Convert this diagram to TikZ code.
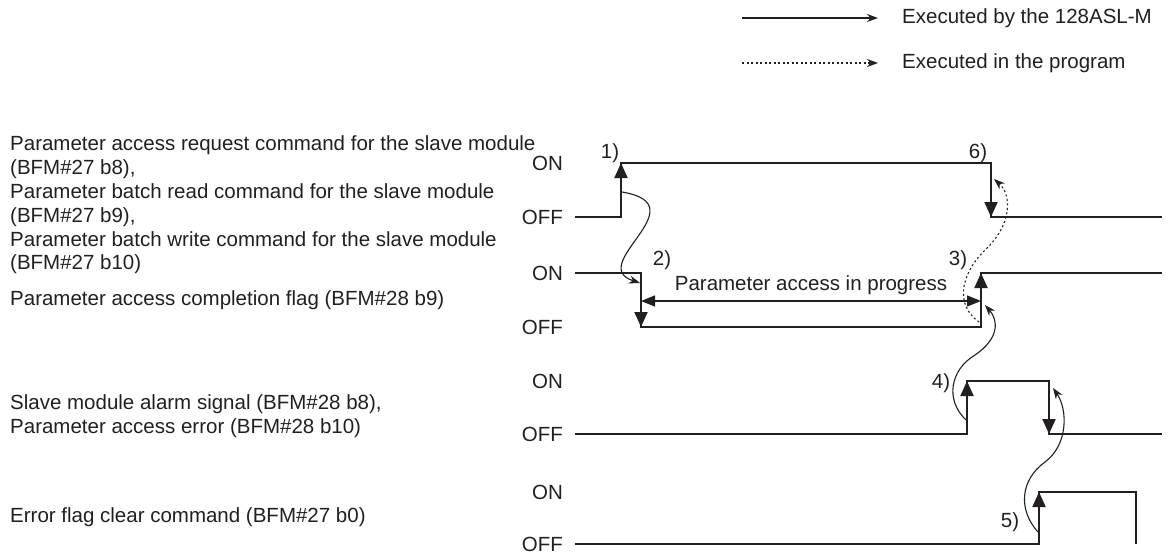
\documentclass[tikz,border=0pt]{standalone}
\usepackage{fontspec}
\setmainfont{Liberation Sans}
\usepackage{xcolor}
\definecolor{ink}{HTML}{231F20}
\usetikzlibrary{arrows.meta,positioning}

\begin{document}
\begin{tikzpicture}[x=1pt,y=-1pt,
  txt/.style={font=\fontsize{20.5}{23.8}\selectfont,text=ink,inner sep=0pt},
  lbl/.style={txt,anchor=west,align=left},
  lvl/.style={txt,anchor=east},
  num/.style={txt},
  sig/.style={draw=ink,line width=2pt},
  edgear/.style={-{Triangle[length=15pt,width=13pt]},draw=ink,line width=2pt},
  span/.style={{Triangle[length=14pt,width=11pt]}-{Triangle[length=14pt,width=11pt]},draw=ink,line width=1.3pt},
  cause/.style={-{Stealth[length=11pt,width=8pt]},draw=ink,line width=1.1pt},
  prog/.style={cause,dash pattern=on 2pt off 2.5pt}
]
\useasboundingbox (0,0) rectangle (1172,557);

% legend
\coordinate (lga) at (742,18);
\coordinate (lgb) at (878,18);
\coordinate (lgc) at (742,63);
\coordinate (lgd) at (878,63);
\draw[cause] (lga) -- (lgb);
\draw[prog] (lgc) -- (lgd);
\node[lbl] (lgtxt1) at (902,18) {Executed by the 128ASL-M};
\node[lbl] (lgtxt2) at (902,63) {Executed in the program};

% signal names
\node[lbl] (req) at (10,205) {Parameter access request command for the slave module\\(BFM\#27 b8),\\Parameter batch read command for the slave module\\(BFM\#27 b9),\\Parameter batch write command for the slave module\\(BFM\#27 b10)};
\node[lbl] (done) at (10,300) {Parameter access completion flag (BFM\#28 b9)};
\node[lbl] (alarm) at (10,416) {Slave module alarm signal (BFM\#28 b8),\\Parameter access error (BFM\#28 b10)};
\node[lbl] (clr) at (10,517) {Error flag clear command (BFM\#27 b0)};

% ON/OFF levels
\foreach \hi/\lo [count=\i] in {163/217,273/327,381/434,492/544}{
  \node[lvl] (on\i) at (563,\hi) {ON};
  \node[lvl] (off\i) at (563,\lo) {OFF};
}

% request command
\coordinate (a0) at (575,217);
\coordinate (a1) at (621,217);
\coordinate (a2) at (621,163);
\coordinate (a3) at (991,163);
\coordinate (a4) at (991,217);
\coordinate (a5) at (1162,217);
\draw[sig] (a0) -- (a1) -- (a2) -- (a3) -- (a4) -- (a5);
\draw[edgear] (a1) -- (a2);
\draw[edgear] (a3) -- (a4);

% completion flag
\coordinate (b0) at (575,273);
\coordinate (b1) at (641,273);
\coordinate (b2) at (641,327);
\coordinate (b3) at (981,327);
\coordinate (b4) at (981,273);
\coordinate (b5) at (1162,273);
\draw[sig] (b0) -- (b1) -- (b2) -- (b3) -- (b4) -- (b5);
\draw[edgear] (b1) -- (b2);
\draw[edgear] (b3) -- (b4);
\coordinate (pl) at (641,301);
\coordinate (pr) at (981,301);
\draw[span] (pl) -- node[txt,above=6pt] (prg) {Parameter access in progress} (pr);

% alarm / error
\coordinate (c0) at (575,434);
\coordinate (c1) at (967,434);
\coordinate (c2) at (967,381);
\coordinate (c3) at (1049,381);
\coordinate (c4) at (1049,434);
\coordinate (c5) at (1162,434);
\draw[sig] (c0) -- (c1) -- (c2) -- (c3) -- (c4) -- (c5);
\draw[edgear] (c1) -- (c2);
\draw[edgear] (c3) -- (c4);

% error flag clear
\coordinate (d0) at (575,544);
\coordinate (d1) at (1039,544);
\coordinate (d2) at (1039,492);
\coordinate (d3) at (1136,492);
\coordinate (d4) at (1136,544);
\draw[sig] (d0) -- (d1) -- (d2) -- (d3) -- (d4);
\draw[edgear] (d1) -- (d2);

% step numbers
\node[num] (n1) at (610,153) {1)};
\node[num] (n2) at (662,260) {2)};
\node[num] (n3) at (958,260) {3)};
\node[num] (n4) at (941,383) {4)};
\node[num] (n5) at (1010,522) {5)};
\node[num] (n6) at (978,153) {6)};

% cause and effect
\coordinate (k1s) at (622,192);
\coordinate (k1e) at (640,283);
\draw[cause] (k1s) .. controls (700,205) and (585,265) .. (k1e);
\coordinate (k3s) at (979,322);
\coordinate (k3m) at (985,250);
\coordinate (k3e) at (994,179);
\draw[prog] (k3s) .. controls (955,305) and (960,275) .. (k3m)
  .. controls (1012,225) and (1012,195) .. (k3e);
\coordinate (k4s) at (966,420);
\coordinate (k4m) at (975,355);
\coordinate (k4e) at (985,305);
\draw[cause] (k4s) .. controls (945,400) and (950,370) .. (k4m)
  .. controls (1000,338) and (998,320) .. (k4e);
\coordinate (k5s) at (1038,532);
\coordinate (k5m) at (1045,462);
\coordinate (k5e) at (1053,388);
\draw[cause] (k5s) .. controls (1018,510) and (1020,480) .. (k5m)
  .. controls (1068,445) and (1068,410) .. (k5e);
\end{tikzpicture}
\end{document}
